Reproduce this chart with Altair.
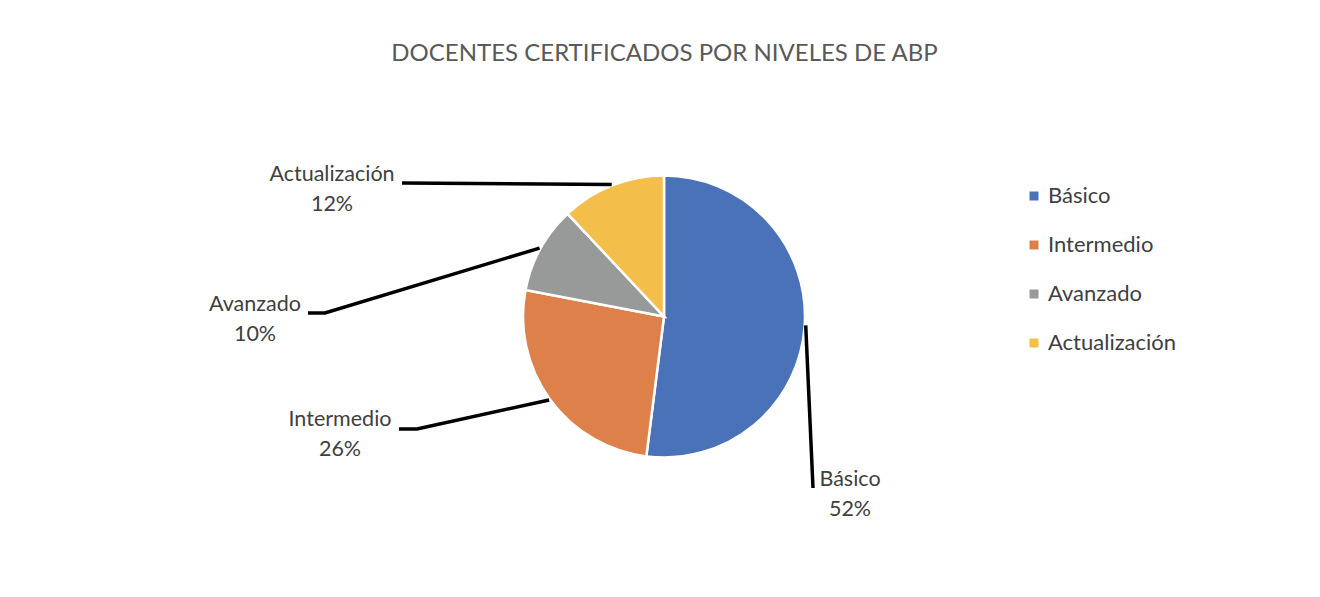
import math
import altair as alt
import pandas as pd

# ---------------- data ----------------
categories = ["Básico", "Intermedio", "Avanzado", "Actualización"]
values = [52, 26, 10, 12]
colors = ["#4A72B8", "#DE8049", "#989A9A", "#F3BE4A"]
title_text = "DOCENTES CERTIFICADOS POR NIVELES DE ABP"

# ---------------- layout (plot-area pixels) ----------------
W, H = 1304, 581
CX, CY, R = 656, 308.5, 141
R_LEAD = 142
FONT = "Lato"
LABEL_SIZE = 21.5
LEGEND_SIZE = 22
LINE_GAP = 29.5
TITLE_POS = (656.5, 46)
# leader line bend / end points, per category
LEADER = {
    "Básico": [(805, 480)],
    "Intermedio": [(409, 421), (391, 421)],
    "Avanzado": [(317, 305), (300, 305)],
    "Actualización": [(394, 175)],
}
# center of first label line, per category
LABEL = {
    "Básico": (842, 472),
    "Intermedio": (332, 412),
    "Avanzado": (247, 297),
    "Actualización": (324, 167),
}

total = sum(values)
pie = pd.DataFrame({"cat": categories, "value": values, "idx": range(len(categories))})

# leader lines from slice mid-angles
rows = []
cum = 0
for c, v in zip(categories, values):
    mid = (cum + v / 2) / total * 2 * math.pi
    cum += v
    sx = CX + R_LEAD * math.sin(mid)
    sy = CY - R_LEAD * math.cos(mid)
    pts = [(sx, sy)] + LEADER[c]
    for i, (px, py) in enumerate(pts):
        rows.append({"cat": c, "seq": i, "px": px, "py": py})
lead = pd.DataFrame(rows)

lab_rows = []
for c, v in zip(categories, values):
    lx, ly = LABEL[c]
    lab_rows.append({"cat": c, "txt": c, "px": lx, "py": ly})
    lab_rows.append({"cat": c, "txt": f"{round(v / total * 100)}%", "px": lx, "py": ly + LINE_GAP})
labels = pd.DataFrame(lab_rows)

title_df = pd.DataFrame({"txt": [title_text], "px": [TITLE_POS[0]], "py": [TITLE_POS[1]]})

xs = alt.Scale(domain=[0, W], range=[0, W], nice=False, zero=False)
ys = alt.Scale(domain=[0, H], range=[0, H], nice=False, zero=False)

arcs = alt.Chart(pie).mark_arc(radius=R, stroke="white", strokeWidth=2.5).encode(
    theta=alt.Theta("value:Q", stack=True),
    order=alt.Order("idx:Q", sort="ascending"),
    color=alt.Color(
        "cat:N",
        scale=alt.Scale(domain=categories, range=colors),
        legend=alt.Legend(
            orient="none", legendX=1015, legendY=177, title=None,
            symbolType="square", symbolSize=81, symbolStrokeWidth=0,
            labelFont=FONT, labelFontSize=LEGEND_SIZE, labelColor="#404040",
            rowPadding=27, labelOffset=3, padding=0,
        ),
    ),
    x=alt.value(CX),
    y=alt.value(CY),
)

lines = alt.Chart(lead).mark_line(color="black", strokeWidth=3.5, strokeCap="butt", strokeJoin="miter").encode(
    x=alt.X("px:Q", scale=xs, axis=None),
    y=alt.Y("py:Q", scale=ys, axis=None),
    detail="cat:N",
    order="seq:Q",
)

texts = alt.Chart(labels).mark_text(
    font=FONT, fontSize=LABEL_SIZE, color="#404040", align="center", baseline="middle"
).encode(
    x=alt.X("px:Q", scale=xs, axis=None),
    y=alt.Y("py:Q", scale=ys, axis=None),
    text="txt:N",
)

title = alt.Chart(title_df).mark_text(
    font=FONT, fontSize=24, color="#595959", align="center", baseline="middle"
).encode(
    x=alt.X("px:Q", scale=xs, axis=None),
    y=alt.Y("py:Q", scale=ys, axis=None),
    text="txt:N",
)

chart = alt.layer(arcs, lines, texts, title).properties(
    width=W, height=H, padding=0, background="white"
).configure_view(stroke=None)

chart.save("out.html", embed_options={"renderer": "svg", "actions": False})
